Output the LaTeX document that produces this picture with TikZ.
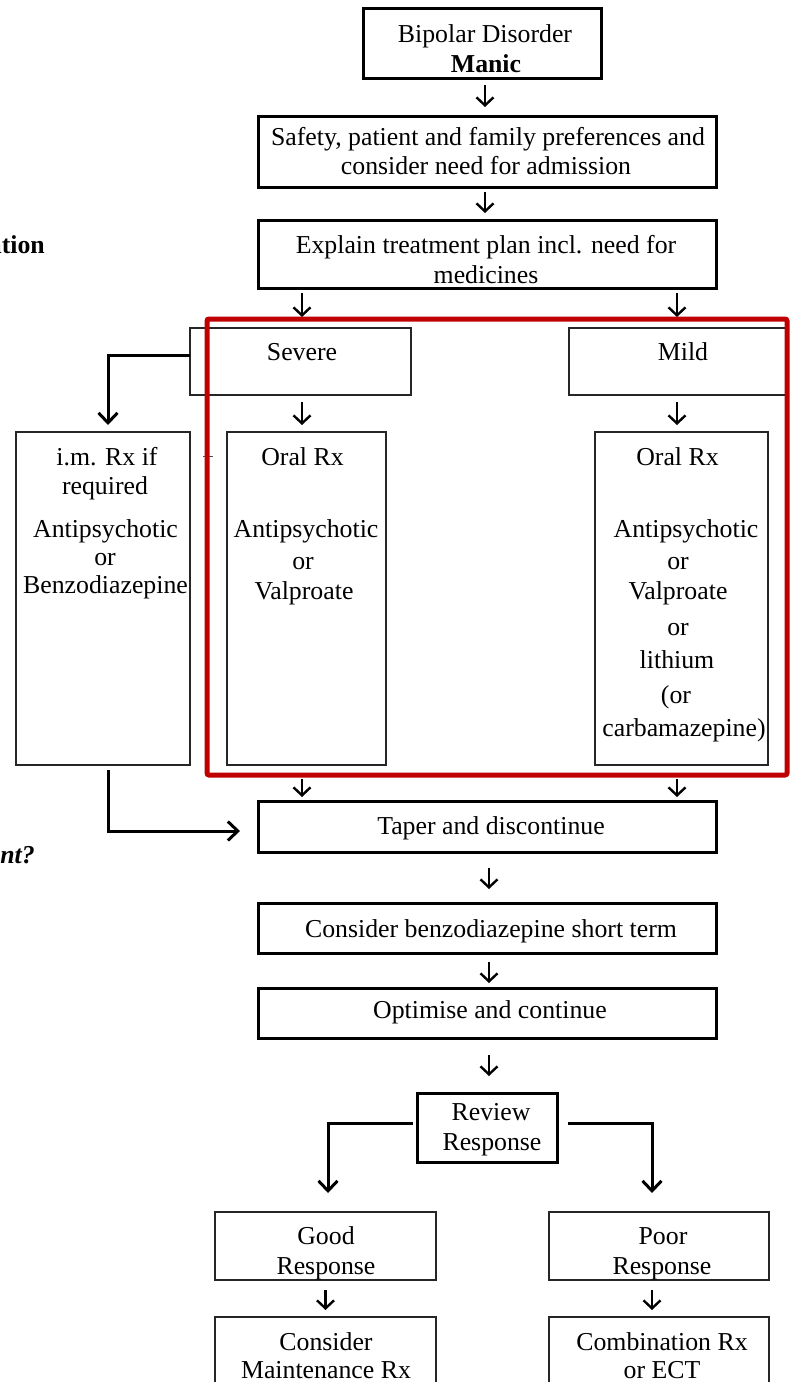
\documentclass[tikz,border=0pt]{standalone}
\usepackage{fontspec}
\setmainfont{Liberation Serif}
\usetikzlibrary{arrows.meta,calc}
\definecolor{hired}{RGB}{192,0,0}
\begin{document}
\begin{tikzpicture}[x=1pt,y=-1pt,
  thickbox/.style={draw=black, line width=3pt, inner sep=0pt, outer sep=0pt},
  thinbox/.style={draw=black!85, line width=1.1pt, inner sep=0pt, outer sep=0pt},
  txt/.style={font=\fontsize{25.8}{30}\selectfont, inner sep=0pt, anchor=base},
  arr/.style={line width=2.4pt, -{Straight Barb[length=8pt,width=17pt]}},
  conn/.style={line width=3pt, -{Straight Barb[length=10pt,width=19pt]}},
]
\fill[white] (0,0) rectangle (790,1382);
\useasboundingbox (0,0) rectangle (790,1382);

% boxes
\node[thickbox, minimum width=238pt, minimum height=70pt] (b1) at (482,43) {};
\node[thickbox, minimum width=458pt, minimum height=71pt] (b2) at (487,151.5) {};
\node[thickbox, minimum width=458pt, minimum height=68pt] (b3) at (487,254) {};
\node[thinbox, minimum width=221pt, minimum height=67pt] (sev) at (300.5,361.5) {};
\node[thinbox, minimum width=218pt, minimum height=67pt] (mild) at (678,361.5) {};
\node[thinbox, minimum width=174pt, minimum height=333pt] (im) at (103,598.5) {};
\node[thinbox, minimum width=159pt, minimum height=333pt] (oral1) at (306.5,598.5) {};
\node[thinbox, minimum width=173pt, minimum height=333pt] (oral2) at (681.5,598.5) {};
\node[thickbox, minimum width=458pt, minimum height=51pt] (taper) at (487,826.5) {};
\node[thickbox, minimum width=458pt, minimum height=50pt] (benzo) at (487,928) {};
\node[thickbox, minimum width=458pt, minimum height=50pt] (opt) at (487,1013) {};
\node[thickbox, minimum width=140pt, minimum height=69pt] (rev) at (487,1127.5) {};
\node[thinbox, minimum width=221pt, minimum height=68pt] (good) at (325.5,1246) {};
\node[thinbox, minimum width=220pt, minimum height=68pt] (poor) at (659,1246) {};
\node[thinbox, minimum width=221pt, minimum height=83pt] (maint) at (325.5,1358.5) {};
\node[thinbox, minimum width=220pt, minimum height=83pt] (comb) at (659,1358.5) {};

% texts
\node[txt] (t1a) at (485,42) {Bipolar Disorder};
\node[txt] (t1b) at (486,72) {\textbf{Manic}};
\node[txt] (t2a) at (488,145) {Safety, patient and family preferences and};
\node[txt] (t2b) at (486,174) {consider need for admission};
\node[txt] (t3a) at (486,253) {Explain treatment plan incl. need for};
\node[txt] (t3b) at (486,283) {medicines};
\node[txt] (tsev) at (302,360) {Severe};
\node[txt] (tmild) at (683,360) {Mild};
\node[txt] (im1) at (107,465) {i.m. Rx if};
\node[txt] (im2) at (105,494) {required};
\node[txt] (im3) at (105.5,537) {Antipsychotic};
\node[txt] (im4) at (105,565) {or};
\node[txt] (im5) at (105.5,593) {Benzodiazepine};
\node[txt] (o1a) at (302.5,465) {Oral Rx};
\node[txt] (o1b) at (306,537) {Antipsychotic};
\node[txt] (o1c) at (303,569) {or};
\node[txt] (o1d) at (304,599) {Valproate};
\node[txt] (o2a) at (677.5,465) {Oral Rx};
\node[txt] (o2b) at (686,537) {Antipsychotic};
\node[txt] (o2c) at (678,569) {or};
\node[txt] (o2d) at (678,599) {Valproate};
\node[txt] (o2e) at (678,635) {or};
\node[txt] (o2f) at (677,668) {lithium};
\node[txt] (o2g) at (676,703) {(or};
\node[txt] (o2h) at (684,736) {carbamazepine)};
\node[txt] (ttaper) at (491,834) {Taper and discontinue};
\node[txt] (tbenzo) at (491,937) {Consider benzodiazepine short term};
\node[txt] (topt) at (490,1018) {Optimise and continue};
\node[txt] (trev1) at (491,1120) {Review};
\node[txt] (trev2) at (492,1150) {Response};
\node[txt] (tgood1) at (326,1244) {Good};
\node[txt] (tgood2) at (326,1274) {Response};
\node[txt] (tpoor1) at (663,1244) {Poor};
\node[txt] (tpoor2) at (662,1274) {Response};
\node[txt] (tm1) at (326,1350) {Consider};
\node[txt] (tm2) at (326,1378) {Maintenance Rx};
\node[txt] (tc1) at (662,1350) {Combination Rx};
\node[txt] (tc2) at (662,1378) {or ECT};
\node[txt, anchor=base east] (side1) at (45,253) {\textbf{ation}};
\node[txt, anchor=base east] (side2) at (35,863) {\textbf{\textit{nt?}}};

% short arrows
\draw[arr] ($(b1.south)+(3,7)$) -- ($(b2.north)+(-2,-9)$);
\draw[arr] ($(b2.south)+(-2,5)$) -- ($(b3.north)+(-2,-7)$);
\draw[arr] ($(b3.south -| sev.north)+(1.5,5)$) -- ($(sev.north)+(1.5,-11)$);
\draw[arr] ($(b3.south -| mild.north)+(-1,5)$) -- ($(mild.north)+(-1,-11)$);
\draw[arr] ($(sev.south)+(1.5,7)$) -- ($(oral1.north)+(-4.5,-7)$);
\draw[arr] ($(mild.south)+(-1,7)$) -- ($(oral2.north)+(-4.5,-7)$);
\draw[arr] ($(oral1.south)+(-4.5,14)$) -- ($(taper.north -| oral1.south)+(-4.5,-4)$);
\draw[arr] ($(oral2.south)+(-4.5,14)$) -- ($(taper.north -| oral2.south)+(-4.5,-4)$);
\draw[arr] ($(taper.south)+(2,16)$) -- ($(benzo.north)+(2,-14)$);
\draw[arr] ($(benzo.south)+(2,9)$) -- ($(opt.north)+(2,-5)$);
\draw[arr] ($(opt.south)+(2,17)$) -- ($(rev.north)+(2,-17)$);
\draw[arr] ($(good.south)+(0,10)$) -- ($(maint.north)+(0,-7)$);
\draw[arr] ($(poor.south)+(-7,10)$) -- ($(comb.north)+(-7,-7)$);

% elbow connectors
\draw[conn] ($(sev.west)+(0,-6.5)$) -| ($(im.north)+(5,-7)$);
\draw[conn] ($(im.south)+(5,5)$) |- ($(taper.west)+(-18,4.5)$);
\draw[conn] ($(rev.west)+(-4,-4.5)$) -| ($(good.north)+(2.5,-19)$);
\draw[conn] ($(rev.east)+(11,-4.5)$) -| ($(poor.north)+(-7,-19)$);

% small tick
\draw[line width=0.8pt, black!70] (203,456) -- (213,456);

% red highlight frame
\draw[hired, line width=5pt, rounded corners=2pt] (207,319) rectangle (787,775);
\end{tikzpicture}
\end{document}
